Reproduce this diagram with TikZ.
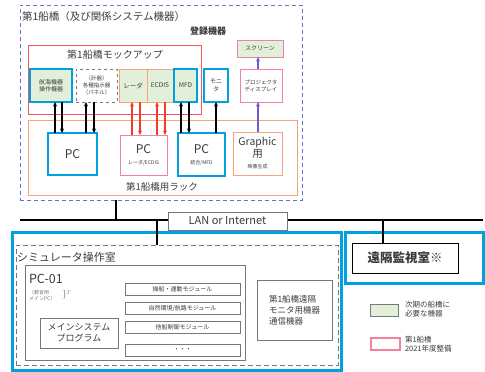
\documentclass[tikz,border=0pt]{standalone}
\usepackage{fontspec}
\setmainfont{Noto Sans CJK JP}
\usetikzlibrary{arrows.meta}
\definecolor{cyanb}{RGB}{0,160,225}
\definecolor{dashb}{RGB}{105,115,200}
\definecolor{mockred}{RGB}{240,85,95}
\definecolor{rackor}{RGB}{245,165,125}
\definecolor{gfill}{RGB}{226,240,217}
\definecolor{pinkb}{RGB}{240,130,160}
\definecolor{arrred}{RGB}{240,60,40}
\definecolor{purp}{RGB}{110,90,200}
\definecolor{txt}{RGB}{60,60,60}
\definecolor{grayb}{RGB}{120,120,120}
\tikzset{
  box/.style={draw, inner sep=0pt, outer sep=0pt, align=center, text=txt},
  bluebox/.style={box, draw=cyanb, line width=2pt},
  pinkbox/.style={box, draw=pinkb, line width=1pt},
  graybox/.style={box, draw=grayb, line width=0.8pt},
  lbl/.style={inner sep=0pt, outer sep=0pt, text=txt, align=left},
  arr/.style={-{Stealth[length=4.5pt,width=4pt]}, line width=1.5pt},
}
\begin{document}
\begin{tikzpicture}[x=1pt,y=-1pt]
\useasboundingbox (0,0) rectangle (485,372);
\fill[white] (0,0) rectangle (485,372);

% bridge group
\node[box, draw=dashb, line width=1pt, dash pattern=on 4pt off 3pt, minimum width=282, minimum height=195] (bridge) at (161,102.5) {};
\node[lbl, anchor=west, font=\fontsize{10.5}{12}\selectfont] (title) at (22,17) {第1船橋（及び関係システム機器）};
\node[lbl, anchor=west, font=\fontsize{9}{10}\selectfont\bfseries] (reg) at (190,31) {登録機器};

% mockup
\node[box, draw=mockred, line width=1pt, minimum width=173, minimum height=69] (mock) at (114.5,79.5) {};
\node[lbl, font=\fontsize{10}{12}\selectfont] (mocktitle) at (115,55) {第1船橋モックアップ};
\node[bluebox, fill=gfill, minimum width=42, minimum height=33, font=\fontsize{6}{7.5}\selectfont] (nav) at (51,85.5) {航海機器\\操作機器};
\node[box, draw=grayb, dashed, line width=0.6pt, minimum width=41, minimum height=33, font=\fontsize{5.5}{7}\selectfont] (inst) at (96.5,85.5) {（計器）\\各種指示器\\（パネル）};
\node[box, draw=rackor, line width=0.6pt, fill=gfill, minimum width=28, minimum height=33, font=\fontsize{6.5}{8}\selectfont] (radar) at (133,85.5) {レーダ};
\node[box, draw=rackor, line width=0.6pt, fill=gfill, minimum width=26, minimum height=33, font=\fontsize{6.5}{8}\selectfont] (ecdis) at (160,85.5) {ECDIS};
\node[bluebox, fill=gfill, minimum width=23, minimum height=33, font=\fontsize{6.5}{8}\selectfont] (mfd) at (185.5,85.5) {MFD};
\node[bluebox, minimum width=24, minimum height=33, font=\fontsize{6}{8}\selectfont] (mon) at (216,85.5) {モニ\\タ};
\node[pinkbox, minimum width=42, minimum height=33, font=\fontsize{5.5}{7}\selectfont] (proj) at (261,85.5) {プロジェクタ\\ディスプレイ};
\node[pinkbox, fill=gfill, minimum width=46, minimum height=17, font=\fontsize{6}{7}\selectfont] (scr) at (260,48.5) {スクリーン};

% rack
\node[box, draw=rackor, line width=1pt, minimum width=269, minimum height=75] (rack) at (162.5,157.5) {};
\node[lbl, font=\fontsize{9.5}{11}\selectfont] (racktitle) at (162,187) {第1船橋用ラック};
\node[bluebox, minimum width=49, minimum height=42, font=\fontsize{12}{14}\selectfont] (pc1) at (72.5,154) {PC};
\node[pinkbox, minimum width=47, minimum height=40] (pc2) at (143.5,155) {{\fontsize{12}{13}\selectfont PC}\\[-1pt]{\fontsize{5}{6}\selectfont レーダ/ECDIS}};
\node[bluebox, minimum width=47, minimum height=43] (pc3) at (201.5,154.5) {{\fontsize{12}{13}\selectfont PC}\\[-1pt]{\fontsize{5}{6}\selectfont 統合/MFD}};
\node[box, draw=rackor, line width=1pt, minimum width=49, minimum height=43] (gpc) at (257.5,153.5) {{\fontsize{10.5}{11}\selectfont Graphic}\\{\fontsize{10.5}{11}\selectfont 用}\\[-1pt]{\fontsize{5}{6}\selectfont 映像生成}};

% arrows mockup <-> PCs
\draw[arr] (pc1.north -| 55,0) -- (nav.south -| 55,0);
\draw[arr] (nav.south -| 62,0) -- (pc1.north -| 62,0);
\draw[arr] (pc1.north -| 86,0) -- (inst.south -| 86,0);
\draw[arr] (inst.south -| 94,0) -- (pc1.north -| 94,0);
\draw[arr, arrred] (pc2.north -| 132,0) -- (radar.south -| 132,0);
\draw[arr, arrred] (radar.south -| 140,0) -- (pc2.north -| 140,0);
\draw[arr, arrred] (pc2.north -| 157,0) -- (ecdis.south -| 157,0);
\draw[arr, arrred] (ecdis.south -| 165,0) -- (pc2.north -| 165,0);
\draw[arr] (pc3.north -| 181,0) -- (mfd.south -| 181,0);
\draw[arr] (mfd.south -| 189,0) -- (pc3.north -| 189,0);
\draw[arr] (pc3.north -| 216,0) -- (mon.south);
\draw[arr, purp] (gpc.north -| 258,0) -- (proj.south -| 258,0);
\draw[arr, purp] (proj.north -| 258,0) -- (scr.south -| 258,0);

% LAN
\coordinate (lanL) at (20,220);
\coordinate (lanR) at (483,220);
\draw[line width=1.6pt] (lanL) -- (lanR);
\draw[line width=1.2pt] (bridge.south -| 116,0) -- (116,220);
\node[box, draw=grayb, fill=white, line width=0.8pt, minimum width=119, minimum height=18, font=\fontsize{11}{12}\selectfont] (lan) at (227.5,221) {LAN or Internet};

% simulator room
\node[box, draw=cyanb, line width=3pt, minimum width=329, minimum height=138] (simblue) at (176.5,301) {};
\node[box, draw=grayb, line width=1pt, dash pattern=on 5pt off 3pt, minimum width=322, minimum height=120] (sim) at (177,305) {};
\draw[line width=1.2pt] (157,220) -- (sim.north -| 157,0);
\node[lbl, anchor=west, font=\fontsize{11}{12}\selectfont] (simtitle) at (17,257) {シミュレータ操作室};
\node[graybox, minimum width=220, minimum height=95] (pc01) at (135,312.5) {};
\node[lbl, anchor=west, font=\fontsize{12.5}{14}\selectfont] (pc01t) at (29,279) {PC-01};
\node[lbl, anchor=west, font=\fontsize{5}{6}\selectfont, text=grayb] (pc01s) at (29,296) {（教官用\\メインPC）};
\node[lbl, anchor=west, font=\fontsize{9}{10}\selectfont, text=grayb] (brace) at (63,295) {\}$^{\scriptscriptstyle T}$};
\node[graybox, minimum width=78, minimum height=30, font=\fontsize{9}{11}\selectfont] (mainp) at (79,333) {メインシステム\\プログラム};
\node[graybox, minimum width=115, minimum height=12, font=\fontsize{6}{7}\selectfont] (mod1) at (182.5,289) {操船・運動モジュール};
\node[graybox, minimum width=115, minimum height=12, font=\fontsize{6}{7}\selectfont] (mod2) at (182.5,308) {自然環境/航路モジュール};
\node[graybox, minimum width=115, minimum height=12, font=\fontsize{6}{7}\selectfont] (mod3) at (182.5,327) {他船制御モジュール};
\node[graybox, minimum width=115, minimum height=12, font=\fontsize{6}{7}\selectfont] (mod4) at (182.5,350) {・・・};
\node[graybox, minimum width=75, minimum height=60, font=\fontsize{8.5}{11}\selectfont, align=left] (comm) at (294.5,310) {第1船橋遠隔\\モニタ用機器\\通信機器};

% remote room
\node[box, draw=cyanb, line width=3pt, minimum width=138, minimum height=51] (remblue) at (414.5,257.5) {};
\node[box, draw=black, line width=1pt, minimum width=106, minimum height=30, font=\fontsize{12.5}{14}\selectfont\bfseries] (remote) at (405,258) {遠隔監視室※};
\draw[line width=1.2pt] (383,220) -- (remote.north -| 383,0);

% legend
\node[box, draw=grayb, fill=gfill, line width=0.8pt, minimum width=28, minimum height=12] (lg1) at (384,310) {};
\node[lbl, anchor=west, font=\fontsize{7.5}{9}\selectfont] (lg1t) at (405,309) {次期の船橋に\\必要な機器};
\node[box, draw=pinkb, line width=1.2pt, minimum width=29, minimum height=12] (lg2) at (385.5,344) {};
\node[lbl, anchor=west, font=\fontsize{7.5}{9}\selectfont] (lg2t) at (405,344) {第1船橋\\2021年度整備};
\end{tikzpicture}
\end{document}
